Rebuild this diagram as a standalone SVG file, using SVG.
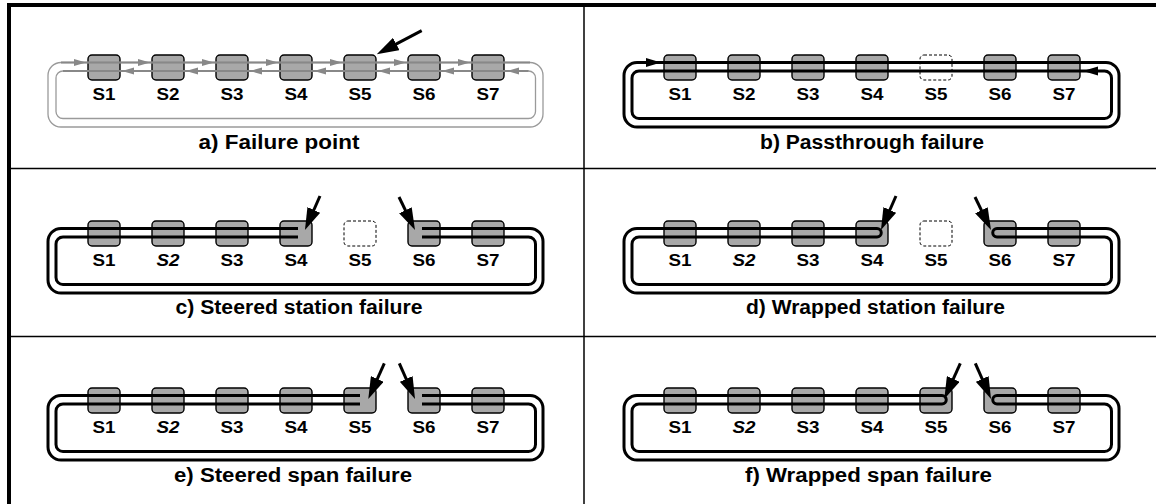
<svg xmlns="http://www.w3.org/2000/svg" xmlns:xlink="http://www.w3.org/1999/xlink" width="1156" height="504" viewBox="0 0 1156 504">
<style>
.box{fill:#a8a8a8;stroke:#000;stroke-width:1.4}
.dead{fill:#fff;stroke:#000;stroke-width:1;stroke-dasharray:3 2}
.lbl{font-family:"Liberation Sans",Arial,Helvetica,sans-serif;font-weight:bold;font-size:16.5px;text-anchor:middle;fill:#000}
.it{font-style:italic}
.cap{font-family:"Liberation Sans",Arial,Helvetica,sans-serif;font-weight:bold;font-size:20px;text-anchor:middle;fill:#000}
.ring{fill:none;stroke:#000;stroke-width:3}
.gring{fill:none;stroke:#9a9a9a;stroke-width:1.3}
.gline{fill:none;stroke:#888;stroke-width:2}
.fail{fill:none;stroke:#000;stroke-width:3;marker-end:url(#big)}
.frame{fill:none;stroke:#000;stroke-width:4}
.div{fill:none;stroke:#000;stroke-width:1.5}
</style>
<defs>
<marker id="big" viewBox="0 0 22 14" markerWidth="22" markerHeight="14" markerUnits="userSpaceOnUse" refX="11" refY="7" orient="auto">
<path d="M0,0 L22,7 L0,14 Z" fill="#000"/>
</marker>
<polygon id="gr" points="-12,-3.5 0,0 -12,3.5" fill="#888"/>
<polygon id="gl" points="12,-3.5 0,0 12,3.5" fill="#888"/>
<polygon id="br" points="-15,-4.5 0,0 -15,4.5" fill="#000"/>
<polygon id="bl" points="15,-4.5 0,0 15,4.5" fill="#000"/>
</defs>

<g id="frame">
<path class="frame" d="M9 504 V5 H1156"/>
<path class="div" d="M584 5 V504"/>
<path class="div" d="M9 168.5 H1156"/>
<path class="div" d="M9 336.5 H1156"/>
</g>

<!-- Panel a -->
<g id="panel-a">
<g id="a-S1"><rect class="box" x="88" y="55" width="32" height="25" rx="4"/><text class="lbl" x="104" y="100" textLength="23" lengthAdjust="spacingAndGlyphs">S1</text></g>
<g id="a-S2"><rect class="box" x="152" y="55" width="32" height="25" rx="4"/><text class="lbl" x="168" y="100" textLength="23" lengthAdjust="spacingAndGlyphs">S2</text></g>
<g id="a-S3"><rect class="box" x="216" y="55" width="32" height="25" rx="4"/><text class="lbl" x="232" y="100" textLength="23" lengthAdjust="spacingAndGlyphs">S3</text></g>
<g id="a-S4"><rect class="box" x="280" y="55" width="32" height="25" rx="4"/><text class="lbl" x="296" y="100" textLength="23" lengthAdjust="spacingAndGlyphs">S4</text></g>
<g id="a-S5"><rect class="box" x="344" y="55" width="32" height="25" rx="4"/><text class="lbl" x="360" y="100" textLength="23" lengthAdjust="spacingAndGlyphs">S5</text></g>
<g id="a-S6"><rect class="box" x="408" y="55" width="32" height="25" rx="4"/><text class="lbl" x="424" y="100" textLength="23" lengthAdjust="spacingAndGlyphs">S6</text></g>
<g id="a-S7"><rect class="box" x="472" y="55" width="32" height="25" rx="4"/><text class="lbl" x="488" y="100" textLength="23" lengthAdjust="spacingAndGlyphs">S7</text></g>
<g id="a-connectors">
<path class="gring" d="M61 62.5 H530 A13 13 0 0 1 543 75.5 V114 A13 13 0 0 1 530 127 H61 A13 13 0 0 1 48 114 V75.5 A13 13 0 0 1 61 62.5 Z"/>
<path class="gring" d="M63 71 H528.5 A7 7 0 0 1 535.5 78 V111.5 A7 7 0 0 1 528.5 118.5 H63 A7 7 0 0 1 56 111.5 V78 A7 7 0 0 1 63 71 Z"/>
<path class="gline" d="M61 62.5 H530 M63 71 H528.5"/>
<use xlink:href="#gr" x="86" y="62.5"/><use xlink:href="#gr" x="150" y="62.5"/><use xlink:href="#gr" x="214" y="62.5"/><use xlink:href="#gr" x="278" y="62.5"/><use xlink:href="#gr" x="342" y="62.5"/><use xlink:href="#gr" x="406" y="62.5"/><use xlink:href="#gr" x="470" y="62.5"/>
<use xlink:href="#gl" x="122" y="71"/><use xlink:href="#gl" x="186" y="71"/><use xlink:href="#gl" x="250" y="71"/><use xlink:href="#gl" x="314" y="71"/><use xlink:href="#gl" x="378" y="71"/><use xlink:href="#gl" x="442" y="71"/><use xlink:href="#gl" x="507" y="71"/>
<path class="fail" d="M421.7 30.7 L386.5 49.1"/>
</g>
<text class="cap" x="279" y="149" textLength="161" lengthAdjust="spacingAndGlyphs">a) Failure point</text>
</g>

<!-- Panel b -->
<g id="panel-b" transform="translate(576,0)">
<g id="b-S1"><rect class="box" x="88" y="55" width="32" height="25" rx="4"/><text class="lbl" x="104" y="100" textLength="23" lengthAdjust="spacingAndGlyphs">S1</text></g>
<g id="b-S2"><rect class="box" x="152" y="55" width="32" height="25" rx="4"/><text class="lbl" x="168" y="100" textLength="23" lengthAdjust="spacingAndGlyphs">S2</text></g>
<g id="b-S3"><rect class="box" x="216" y="55" width="32" height="25" rx="4"/><text class="lbl" x="232" y="100" textLength="23" lengthAdjust="spacingAndGlyphs">S3</text></g>
<g id="b-S4"><rect class="box" x="280" y="55" width="32" height="25" rx="4"/><text class="lbl" x="296" y="100" textLength="23" lengthAdjust="spacingAndGlyphs">S4</text></g>
<g id="b-S5"><rect class="dead" x="344" y="55" width="32" height="25" rx="4"/><text class="lbl" x="360" y="100" textLength="23" lengthAdjust="spacingAndGlyphs">S5</text></g>
<g id="b-S6"><rect class="box" x="408" y="55" width="32" height="25" rx="4"/><text class="lbl" x="424" y="100" textLength="23" lengthAdjust="spacingAndGlyphs">S6</text></g>
<g id="b-S7"><rect class="box" x="472" y="55" width="32" height="25" rx="4"/><text class="lbl" x="488" y="100" textLength="23" lengthAdjust="spacingAndGlyphs">S7</text></g>
<g id="b-connectors">
<path class="ring" d="M61 62.5 H530 A13 13 0 0 1 543 75.5 V114 A13 13 0 0 1 530 127 H61 A13 13 0 0 1 48 114 V75.5 A13 13 0 0 1 61 62.5 Z"/>
<path class="ring" d="M63 71 H528.5 A7 7 0 0 1 535.5 78 V111.5 A7 7 0 0 1 528.5 118.5 H63 A7 7 0 0 1 56 111.5 V78 A7 7 0 0 1 63 71 Z"/>
<use xlink:href="#br" x="85" y="62.5"/>
<use xlink:href="#bl" x="507" y="71"/>
</g>
<text class="cap" x="296" y="149" textLength="224" lengthAdjust="spacingAndGlyphs">b) Passthrough failure</text>
</g>

<!-- Panel c -->
<g id="panel-c" transform="translate(0,166)">
<g id="c-S1"><rect class="box" x="88" y="55" width="32" height="25" rx="4"/><text class="lbl" x="104" y="100" textLength="23" lengthAdjust="spacingAndGlyphs">S1</text></g>
<g id="c-S2"><rect class="box" x="152" y="55" width="32" height="25" rx="4"/><text class="lbl it" x="168" y="100" textLength="23" lengthAdjust="spacingAndGlyphs">S2</text></g>
<g id="c-S3"><rect class="box" x="216" y="55" width="32" height="25" rx="4"/><text class="lbl" x="232" y="100" textLength="23" lengthAdjust="spacingAndGlyphs">S3</text></g>
<g id="c-S4"><rect class="box" x="280" y="55" width="32" height="25" rx="4"/><text class="lbl" x="296" y="100" textLength="23" lengthAdjust="spacingAndGlyphs">S4</text></g>
<g id="c-S5"><rect class="dead" x="344" y="55" width="32" height="25" rx="4"/><text class="lbl" x="360" y="100" textLength="23" lengthAdjust="spacingAndGlyphs">S5</text></g>
<g id="c-S6"><rect class="box" x="408" y="55" width="32" height="25" rx="4"/><text class="lbl" x="424" y="100" textLength="23" lengthAdjust="spacingAndGlyphs">S6</text></g>
<g id="c-S7"><rect class="box" x="472" y="55" width="32" height="25" rx="4"/><text class="lbl" x="488" y="100" textLength="23" lengthAdjust="spacingAndGlyphs">S7</text></g>
<g id="c-connectors">
<path class="ring" d="M298 62.5 H61 A13 13 0 0 0 48 75.5 V114 A13 13 0 0 0 61 127 H530 A13 13 0 0 0 543 114 V75.5 A13 13 0 0 0 530 62.5 H422"/>
<path class="ring" d="M298 71 H63 A7 7 0 0 0 56 78 V111.5 A7 7 0 0 0 63 118.5 H528.5 A7 7 0 0 0 535.5 111.5 V78 A7 7 0 0 0 528.5 71 H422"/>
<path class="fail" d="M320 30 L309.4 54"/>
<path class="fail" d="M399 31 L410.2 54.1"/>
</g>
<text class="cap" x="299" y="148" textLength="247" lengthAdjust="spacingAndGlyphs">c) Steered station failure</text>
</g>

<!-- Panel d -->
<g id="panel-d" transform="translate(576,166)">
<g id="d-S1"><rect class="box" x="88" y="55" width="32" height="25" rx="4"/><text class="lbl" x="104" y="100" textLength="23" lengthAdjust="spacingAndGlyphs">S1</text></g>
<g id="d-S2"><rect class="box" x="152" y="55" width="32" height="25" rx="4"/><text class="lbl it" x="168" y="100" textLength="23" lengthAdjust="spacingAndGlyphs">S2</text></g>
<g id="d-S3"><rect class="box" x="216" y="55" width="32" height="25" rx="4"/><text class="lbl" x="232" y="100" textLength="23" lengthAdjust="spacingAndGlyphs">S3</text></g>
<g id="d-S4"><rect class="box" x="280" y="55" width="32" height="25" rx="4"/><text class="lbl" x="296" y="100" textLength="23" lengthAdjust="spacingAndGlyphs">S4</text></g>
<g id="d-S5"><rect class="dead" x="344" y="55" width="32" height="25" rx="4"/><text class="lbl" x="360" y="100" textLength="23" lengthAdjust="spacingAndGlyphs">S5</text></g>
<g id="d-S6"><rect class="box" x="408" y="55" width="32" height="25" rx="4"/><text class="lbl" x="424" y="100" textLength="23" lengthAdjust="spacingAndGlyphs">S6</text></g>
<g id="d-S7"><rect class="box" x="472" y="55" width="32" height="25" rx="4"/><text class="lbl" x="488" y="100" textLength="23" lengthAdjust="spacingAndGlyphs">S7</text></g>
<g id="d-connectors">
<path class="ring" d="M301 62.5 H61 A13 13 0 0 0 48 75.5 V114 A13 13 0 0 0 61 127 H530 A13 13 0 0 0 543 114 V75.5 A13 13 0 0 0 530 62.5 H421 A4.25 4.25 0 0 0 421 71 H528.5 A7 7 0 0 1 535.5 78 V111.5 A7 7 0 0 1 528.5 118.5 H63 A7 7 0 0 1 56 111.5 V78 A7 7 0 0 1 63 71 H301 A4.25 4.25 0 0 0 301 62.5 Z"/>
<path class="fail" d="M320 30 L309.4 54"/>
<path class="fail" d="M399 31 L410.2 54.1"/>
</g>
<text class="cap" x="299.5" y="148" textLength="259" lengthAdjust="spacingAndGlyphs">d) Wrapped station failure</text>
</g>

<!-- Panel e -->
<g id="panel-e" transform="translate(0,333)">
<g id="e-S1"><rect class="box" x="88" y="55" width="32" height="25" rx="4"/><text class="lbl" x="104" y="100" textLength="23" lengthAdjust="spacingAndGlyphs">S1</text></g>
<g id="e-S2"><rect class="box" x="152" y="55" width="32" height="25" rx="4"/><text class="lbl it" x="168" y="100" textLength="23" lengthAdjust="spacingAndGlyphs">S2</text></g>
<g id="e-S3"><rect class="box" x="216" y="55" width="32" height="25" rx="4"/><text class="lbl" x="232" y="100" textLength="23" lengthAdjust="spacingAndGlyphs">S3</text></g>
<g id="e-S4"><rect class="box" x="280" y="55" width="32" height="25" rx="4"/><text class="lbl" x="296" y="100" textLength="23" lengthAdjust="spacingAndGlyphs">S4</text></g>
<g id="e-S5"><rect class="box" x="344" y="55" width="32" height="25" rx="4"/><text class="lbl" x="360" y="100" textLength="23" lengthAdjust="spacingAndGlyphs">S5</text></g>
<g id="e-S6"><rect class="box" x="408" y="55" width="32" height="25" rx="4"/><text class="lbl" x="424" y="100" textLength="23" lengthAdjust="spacingAndGlyphs">S6</text></g>
<g id="e-S7"><rect class="box" x="472" y="55" width="32" height="25" rx="4"/><text class="lbl" x="488" y="100" textLength="23" lengthAdjust="spacingAndGlyphs">S7</text></g>
<g id="e-connectors">
<path class="ring" d="M360 62.5 H61 A13 13 0 0 0 48 75.5 V114 A13 13 0 0 0 61 127 H530 A13 13 0 0 0 543 114 V75.5 A13 13 0 0 0 530 62.5 H422"/>
<path class="ring" d="M360 71 H63 A7 7 0 0 0 56 78 V111.5 A7 7 0 0 0 63 118.5 H528.5 A7 7 0 0 0 535.5 111.5 V78 A7 7 0 0 0 528.5 71 H422"/>
<path class="fail" d="M384.3 30.3 L372.8 56"/>
<path class="fail" d="M399.3 30.3 L410.6 56"/>
</g>
<text class="cap" x="293" y="149" textLength="238" lengthAdjust="spacingAndGlyphs">e) Steered span failure</text>
</g>

<!-- Panel f -->
<g id="panel-f" transform="translate(576,333)">
<g id="f-S1"><rect class="box" x="88" y="55" width="32" height="25" rx="4"/><text class="lbl" x="104" y="100" textLength="23" lengthAdjust="spacingAndGlyphs">S1</text></g>
<g id="f-S2"><rect class="box" x="152" y="55" width="32" height="25" rx="4"/><text class="lbl it" x="168" y="100" textLength="23" lengthAdjust="spacingAndGlyphs">S2</text></g>
<g id="f-S3"><rect class="box" x="216" y="55" width="32" height="25" rx="4"/><text class="lbl" x="232" y="100" textLength="23" lengthAdjust="spacingAndGlyphs">S3</text></g>
<g id="f-S4"><rect class="box" x="280" y="55" width="32" height="25" rx="4"/><text class="lbl" x="296" y="100" textLength="23" lengthAdjust="spacingAndGlyphs">S4</text></g>
<g id="f-S5"><rect class="box" x="344" y="55" width="32" height="25" rx="4"/><text class="lbl" x="360" y="100" textLength="23" lengthAdjust="spacingAndGlyphs">S5</text></g>
<g id="f-S6"><rect class="box" x="408" y="55" width="32" height="25" rx="4"/><text class="lbl" x="424" y="100" textLength="23" lengthAdjust="spacingAndGlyphs">S6</text></g>
<g id="f-S7"><rect class="box" x="472" y="55" width="32" height="25" rx="4"/><text class="lbl" x="488" y="100" textLength="23" lengthAdjust="spacingAndGlyphs">S7</text></g>
<g id="f-connectors">
<path class="ring" d="M366 62.5 H61 A13 13 0 0 0 48 75.5 V114 A13 13 0 0 0 61 127 H530 A13 13 0 0 0 543 114 V75.5 A13 13 0 0 0 530 62.5 H421 A4.25 4.25 0 0 0 421 71 H528.5 A7 7 0 0 1 535.5 78 V111.5 A7 7 0 0 1 528.5 118.5 H63 A7 7 0 0 1 56 111.5 V78 A7 7 0 0 1 63 71 H366 A4.25 4.25 0 0 0 366 62.5 Z"/>
<path class="fail" d="M384.3 30.3 L372.8 56"/>
<path class="fail" d="M399.3 30.3 L410.6 56"/>
</g>
<text class="cap" x="292.5" y="149" textLength="247" lengthAdjust="spacingAndGlyphs">f) Wrapped span failure</text>
</g>
</svg>
